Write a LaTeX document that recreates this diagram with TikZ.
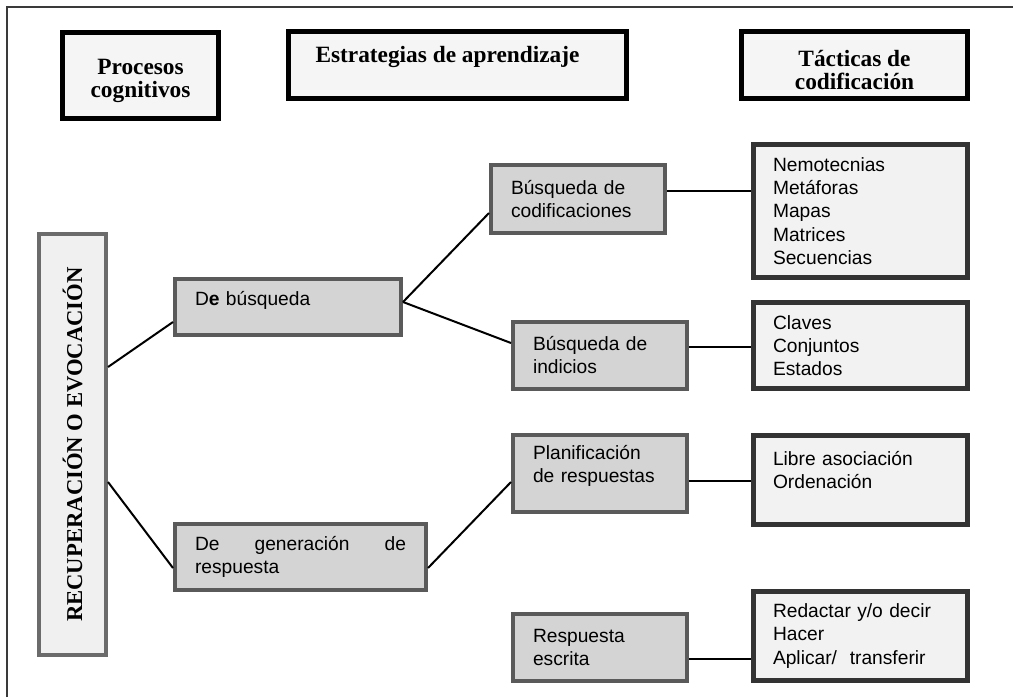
\documentclass[tikz,border=0pt]{standalone}
\usepackage{fontspec}
\setmainfont{Liberation Serif}
\setsansfont{Liberation Sans}
\usepackage{tikz}
\definecolor{headfill}{HTML}{F5F5F5}
\definecolor{procline}{HTML}{6B6B6B}
\definecolor{procfill}{HTML}{F0F0F0}
\definecolor{stratline}{HTML}{5A5A5A}
\definecolor{stratfill}{HTML}{D4D4D4}
\definecolor{tactline}{HTML}{333333}
\definecolor{tactfill}{HTML}{F2F2F2}
\definecolor{frameline}{HTML}{3A3A3A}
\newcommand{\dropby}[1]{\rule[-#1]{0pt}{#1}}

\begin{document}
\begin{tikzpicture}[x=0.75pt,y=0.75pt]
\tikzstyle{every node}+=[inner sep=0pt]
\tikzstyle{head}=[draw=black, line width=3.75pt, fill=headfill, align=center, font=\fontsize{17.5}{17}\selectfont\bfseries]
\tikzstyle{proc}=[draw=procline, line width=3pt, fill=procfill, font=\fontsize{17}{20}\selectfont\bfseries]
\tikzstyle{strat}=[draw=stratline, line width=3pt, fill=stratfill, align=left, font=\sffamily\fontsize{14.4}{17.25}\selectfont]
\tikzstyle{tact}=[draw=tactline, line width=3.6pt, fill=tactfill, align=left, text width=131.25pt, minimum width=160.5pt, font=\sffamily\fontsize{14.4}{17.4}\selectfont]
\tikzstyle{link}=[black, line width=1.5pt]
\useasboundingbox (0,0) rectangle (1013,-697);
\draw [frameline, line width=1.5pt] (7,-697) -- (7,-7) -- (1013,-7);
\node [head, minimum width=117pt, minimum height=64.5pt] (pc) at (140.5,-75.5) {\rule{0pt}{19.5pt}Procesos\\cognitivos};
\node [head, minimum width=253.5pt, minimum height=50.25pt] (ea) at (457.5,-65) {Estrategias de aprendizaje\hspace*{15pt}\dropby{15.7pt}};
\node [head, minimum width=169.5pt, minimum height=50.25pt] (tc) at (854.5,-65) {\rule{0pt}{19.5pt}Tácticas de\\codificación};
\node [proc, rotate=90, minimum width=315.75pt, minimum height=50.25pt] (rec) at (72.5,-444.5) {RECUPERACIÓN O EVOCACIÓN};
\node [strat, text width=139.5pt, minimum width=169.5pt, minimum height=42pt] (debus) at (288,-307) {D\textbf{e} búsqueda\dropby{13.5pt}};
\node [strat, align=justify, text width=158.25pt, minimum width=188.25pt, minimum height=49.5pt] (degen) at (300.5,-557) {De generación de\linebreak respuesta};
\node [strat, text width=100.5pt, minimum width=130.5pt, minimum height=51pt] (bcod) at (578,-199) {Búsqueda de\\codificaciones};
\node [strat, text width=100.5pt, minimum width=130.5pt, minimum height=50.25pt] (bind) at (600,-355.5) {Búsqueda de\\indicios};
\node [strat, text width=100.5pt, minimum width=130.5pt, minimum height=57.75pt] (plan) at (600,-473.5) {Planificación\\de respuestas\dropby{14pt}};
\node [strat, text width=100.5pt, minimum width=130.5pt, minimum height=50.25pt] (resp) at (600,-647.5) {Respuesta\\escrita};
\node [tact, minimum height=99.75pt] (nemo) at (860.5,-211) {Nemotecnias\\Metáforas\\Mapas\\Matrices\\Secuencias};
\node [tact, minimum height=64.5pt] (clav) at (860.5,-345.5) {Claves\\Conjuntos\\Estados};
\node [tact, minimum height=66.75pt] (libr) at (860.5,-480) {Libre asociación\\Ordenación\dropby{15pt}};
\node [tact, minimum height=66.75pt] (reda) at (860.5,-636) {Redactar y/o decir\\Hacer\\Aplicar/~ transferir};
\draw [link] ([yshift=58.125pt]rec.south) -- ([yshift=-11.25pt]debus.west);
\draw [link] ([yshift=-28.125pt]rec.south) -- ([yshift=-8.25pt]degen.west);
\draw [link] ([yshift=3.75pt]debus.east) -- ([yshift=-10.5pt]bcod.west);
\draw [link] ([yshift=3.75pt]debus.east) -- ([yshift=9.375pt]bind.west);
\draw [link] ([yshift=-8.25pt]degen.east) -- ([yshift=-6.375pt]plan.west);
\draw [link] ([yshift=6pt]bcod.east) -- ([yshift=15pt]nemo.west);
\draw [link] ([yshift=6.375pt]bind.east) -- ([yshift=-1.125pt]clav.west);
\draw [link] ([yshift=-5.625pt]plan.east) -- ([yshift=-0.75pt]libr.west);
\draw [link] ([yshift=-8.625pt]resp.east) -- ([yshift=-17.25pt]reda.west);
\end{tikzpicture}
\end{document}
